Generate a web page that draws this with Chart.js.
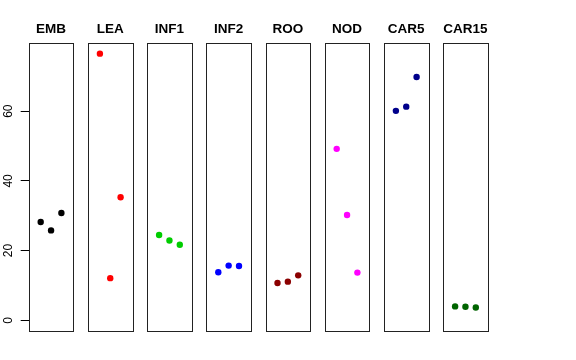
<!DOCTYPE html>
<html><head><meta charset="utf-8">
<script src="https://cdn.jsdelivr.net/npm/chart.js@4/dist/chart.umd.min.js"></script>
<style>
html,body{margin:0;padding:0;background:#fff;}
#wrap{position:relative;width:576px;height:360px;overflow:hidden;}
#wrap .cell{position:absolute;top:0;height:360px;}
</style>
</head><body><div id="wrap"></div>
<script>
const categories = ['EMB','LEA','INF1','INF2','ROO','NOD','CAR5','CAR15'];
const positions = [1, 2, 3];
const valuesEMB   = [28.2, 25.8, 30.8];
const valuesLEA   = [76.5, 12.1, 35.3];
const valuesINF1  = [24.5, 22.9, 21.7];
const valuesINF2  = [13.8, 15.7, 15.6];
const valuesROO   = [10.7, 11.1, 12.9];
const valuesNOD   = [49.2, 30.2, 13.7];
const valuesCAR5  = [60.1, 61.3, 69.8];
const valuesCAR15 = [4.0, 3.9, 3.7];
const yTicks = [0, 20, 40, 60];

const seriesValues = [valuesEMB, valuesLEA, valuesINF1, valuesINF2, valuesROO, valuesNOD, valuesCAR5, valuesCAR15];
const colors = ['#000000','#FF0000','#00CD00','#0000FF','#8B0000','#FF00FF','#00008B','#006400'];

const H = 360;
const yMaxData = Math.max(...seriesValues.flat());
const yMin = 0 - 0.04 * yMaxData;
const yMax = yMaxData + 0.04 * yMaxData;

const boxPlugin = {
  id: 'box',
  afterDraw(chart, args, opts) {
    const ctx = chart.ctx, a = chart.chartArea;
    ctx.save();
    ctx.strokeStyle = '#222';
    ctx.lineWidth = 1;
    ctx.strokeRect(Math.round(a.left) + 0.5, Math.round(a.top) + 0.5,
                   Math.round(a.right) - Math.round(a.left), Math.round(a.bottom) - Math.round(a.top));
    ctx.fillStyle = '#000';
    ctx.font = 'bold 13.5px "Liberation Sans", Arial, sans-serif';
    ctx.textAlign = 'center';
    ctx.textBaseline = 'middle';
    ctx.fillText(opts.label, (a.left + a.right) / 2, 29.5);
    ctx.restore();
  }
};

const wrap = document.getElementById('wrap');
categories.forEach((cat, i) => {
  const left = 28.7 + 59.2 * i;
  const right = left + 44.7;
  const showAxis = i === 0;
  const cLeft = showAxis ? 0 : Math.floor(left - 7);
  const cRight = Math.floor(right + 7);
  const cW = cRight - cLeft;
  const cell = document.createElement('div');
  cell.className = 'cell';
  cell.style.left = cLeft + 'px';
  cell.style.width = cW + 'px';
  const cv = document.createElement('canvas');
  cv.width = cW; cv.height = H;
  cv.style.width = cW + 'px'; cv.style.height = H + 'px';
  cell.appendChild(cv);
  wrap.appendChild(cell);
  const vals = seriesValues[i];
  const yScale = { type: 'linear', display: showAxis, min: yMin, max: yMax };
  if (showAxis) {
    Object.assign(yScale, {
      afterBuildTicks(scale) { scale.ticks = yTicks.map(v => ({ value: v })); },
      afterFit(scale) { scale.width = left; },
      border: { display: false },
      grid: { drawOnChartArea: false, drawTicks: true, tickLength: 8, color: '#000', lineWidth: 1 },
      ticks: {
        display: true, color: '#000', padding: 5, crossAlign: 'center',
        minRotation: 90, maxRotation: 90,
        font: { family: '"Liberation Sans", Arial, sans-serif', size: 12 },
        callback: v => String(v)
      }
    });
  }
  new Chart(cv, {
    type: 'scatter',
    data: {
      datasets: [{
        data: positions.map((x, j) => ({ x: x, y: vals[j] })),
        backgroundColor: colors[i],
        borderColor: colors[i],
        borderWidth: 0,
        pointRadius: 3.2,
        pointHoverRadius: 3.2
      }]
    },
    options: {
      responsive: false,
      animation: false,
      events: [],
      layout: { padding: { left: showAxis ? 0 : left - cLeft, right: cRight - right, top: 43, bottom: H - 331 } },
      plugins: {
        legend: { display: false },
        tooltip: { enabled: false },
        title: { display: false },
        box: { label: cat }
      },
      scales: {
        x: { type: 'linear', display: false, min: -0.16, max: 4.16 },
        y: yScale
      }
    },
    plugins: [boxPlugin]
  });
});
</script>
</body></html>
